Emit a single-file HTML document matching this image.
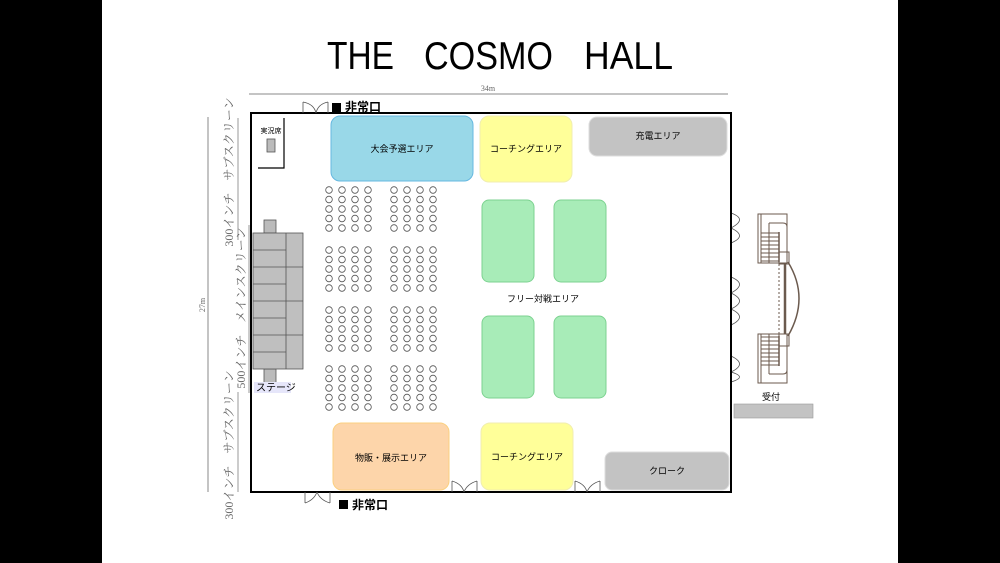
<!DOCTYPE html>
<html><head><meta charset="utf-8"><style>
html,body{margin:0;padding:0;background:#000;}
svg{display:block;font-family:"Liberation Sans","Noto Sans CJK JP",sans-serif;}
</style></head><body>
<svg width="1000" height="563" viewBox="0 0 1000 563" xmlns="http://www.w3.org/2000/svg">
<rect x="0" y="0" width="1000" height="563" fill="#000"/>
<rect x="102" y="0" width="796" height="563" fill="#fff"/>
<text x="327" y="69" font-size="39" textLength="67" lengthAdjust="spacingAndGlyphs" fill="#000">THE</text>
<text x="424" y="69" font-size="39" textLength="129" lengthAdjust="spacingAndGlyphs" fill="#000">COSMO</text>
<text x="584" y="69" font-size="39" textLength="89" lengthAdjust="spacingAndGlyphs" fill="#000">HALL</text>
<!-- dimension 34m -->
<line x1="249" y1="94" x2="728" y2="94" stroke="#888" stroke-width="1"/>
<text x="488" y="91" font-size="8" text-anchor="middle" fill="#666" font-family="Liberation Serif,serif">34m</text>
<!-- 27m -->
<line x1="208" y1="117" x2="208" y2="492" stroke="#888" stroke-width="1"/>
<text x="205" y="305" font-size="8" fill="#666" font-family="Liberation Serif,serif" transform="rotate(-90 205 305)" text-anchor="middle">27m</text>
<!-- screen labels -->
<line x1="238" y1="118" x2="238" y2="240" stroke="#999"/>
<text x="233" y="172" font-size="12" fill="#666" font-family="Liberation Serif,'Noto Serif CJK SC',serif" transform="rotate(-90 233 172)" text-anchor="middle">300インチ　サブスクリーン</text>
<line x1="249" y1="225" x2="249" y2="393" stroke="#999"/>
<text x="245" y="308" font-size="12" fill="#666" font-family="Liberation Serif,'Noto Serif CJK SC',serif" transform="rotate(-90 245 308)" text-anchor="middle">500インチ　メインスクリーン</text>
<line x1="238" y1="392" x2="238" y2="492" stroke="#999"/>
<text x="233" y="445" font-size="12" fill="#666" font-family="Liberation Serif,'Noto Serif CJK SC',serif" transform="rotate(-90 233 445)" text-anchor="middle">300インチ　サブスクリーン</text>
<!-- doors right wall -->
<g fill="none" stroke="#555" stroke-width="0.8">
<path d="M731,213 Q748,219 731,228 Q748,236 731,243"/>
<path d="M731,277 Q748,284 731,293 Q748,301 731,309 Q748,317 731,325"/>
<path d="M731,356 Q748,364 731,372 Q748,377 731,382"/>
</g>
<!-- hall -->
<rect x="251" y="113" width="480" height="379" fill="none" stroke="#000" stroke-width="2"/>
<!-- 実況席 -->
<polyline points="284,118 284,168 258,168" fill="none" stroke="#000" stroke-width="1.2"/>
<text x="271" y="133" font-size="7" text-anchor="middle">実況席</text>
<rect x="267" y="139" width="8" height="13" fill="#bbb" stroke="#555" stroke-width="0.8"/>
<!-- doors -->
<g fill="none" stroke="#555" stroke-width="0.8">
<path d="M303,102 L303,113 M328,102 L328,113 M303,102 Q314,104 316,113 M328,102 Q318,104 316,113"/>
<path d="M305,503 L305,492 M330,503 L330,492 M305,503 Q314,500 317,492 M330,503 Q320,500 317,492"/>
<path d="M452,492 L452,481 M477,492 L477,481 M452,481 Q462,484 464,492 M477,481 Q467,484 464,492"/>
<path d="M575,492 L575,481 M600,492 L600,481 M575,481 Q585,484 587,492 M600,481 Q590,484 587,492"/>
</g>
<rect x="332" y="103" width="9" height="9" fill="#000"/>
<text x="345" y="111" font-size="12" font-weight="bold">非常口</text>
<rect x="339" y="500" width="9" height="9" fill="#000"/>
<text x="352" y="509" font-size="12" font-weight="bold">非常口</text>
<!-- areas -->
<rect x="331" y="116" width="142" height="65" rx="9" fill="#99d8e8" stroke="#66b8e0"/>
<text x="402" y="152" font-size="9" text-anchor="middle">大会予選エリア</text>
<rect x="480" y="116" width="92" height="66" rx="9" fill="#ffff99" stroke="#f0eeb0"/>
<text x="526" y="152" font-size="9" text-anchor="middle">コーチングエリア</text>
<rect x="589" y="117" width="138" height="39" rx="8" fill="#c3c3c3" stroke="#ddd"/>
<text x="658" y="139" font-size="9" text-anchor="middle">充電エリア</text>
<g fill="#a8ecb8" stroke="#7cd290">
<rect x="482" y="200" width="52" height="82" rx="7"/>
<rect x="554" y="200" width="52" height="82" rx="7"/>
<rect x="482" y="316" width="52" height="82" rx="7"/>
<rect x="554" y="316" width="52" height="82" rx="7"/>
</g>
<text x="543" y="302" font-size="9" text-anchor="middle">フリー対戦エリア</text>
<rect x="333" y="423" width="116" height="67" rx="9" fill="#fdd5aa" stroke="#fbd080"/>
<text x="391" y="461" font-size="9" text-anchor="middle">物販・展示エリア</text>
<rect x="481" y="423" width="92" height="67" rx="9" fill="#ffff99" stroke="#f0eeb0"/>
<text x="527" y="460" font-size="9" text-anchor="middle">コーチングエリア</text>
<rect x="605" y="452" width="124" height="38" rx="7" fill="#c3c3c3" stroke="#ddd"/>
<text x="667" y="474" font-size="9" text-anchor="middle">クローク</text>
<!-- reception -->
<text x="771" y="400" font-size="9" text-anchor="middle">受付</text>
<rect x="734" y="404" width="79" height="14" fill="#c3c3c3" stroke="#999" stroke-width="0.6"/>
<!-- stairs -->
<g fill="none" stroke="#6b5a4e" stroke-width="1">
<rect x="758" y="214" width="29" height="49"/>
<rect x="758" y="334" width="29" height="49"/>
<path d="M761,214 v49 M761,334 v49"/>
<path d="M769,223 h14 q4,0 4,4 v14 M769,223 v40"/>
<path d="M769,374 h14 q4,0 4,-4 v-14 M769,374 v-40"/>
<path d="M761,233 h18 M761,237 h18 M761,241 h18 M761,245 h18 M761,249 h18 M761,253 h18 M761,257 h18 M761,261 h18"/>
<path d="M761,337 h18 M761,341 h18 M761,345 h18 M761,349 h18 M761,353 h18 M761,357 h18 M761,361 h18 M761,365 h18"/>
<path d="M779,232 v30 M779,336 v30" stroke-width="1.5"/>
<line x1="779" y1="264" x2="779" y2="334" stroke-dasharray="2,2"/>
<line x1="785" y1="264" x2="785" y2="334" stroke-width="2.5"/>
<path d="M788,262 Q810,298 788,336" stroke-width="1.5"/>
<rect x="779" y="252" width="10" height="12"/>
<rect x="779" y="334" width="10" height="12"/>
</g>
<!-- stage -->
<rect x="264" y="220" width="12" height="13" fill="#bbb" stroke="#555" stroke-width="0.8"/>
<rect x="264" y="369" width="12" height="14" fill="#bbb" stroke="#555" stroke-width="0.8"/>
<rect x="253" y="233" width="50" height="136" fill="#bfbfbf" stroke="#555" stroke-width="0.8"/>
<g stroke="#555" stroke-width="0.8">
<line x1="286" y1="233" x2="286" y2="369"/>
<line x1="253" y1="250" x2="286" y2="250"/><line x1="253" y1="267" x2="303" y2="267"/>
<line x1="253" y1="284" x2="286" y2="284"/><line x1="253" y1="301" x2="303" y2="301"/>
<line x1="253" y1="318" x2="286" y2="318"/><line x1="253" y1="335" x2="303" y2="335"/>
<line x1="253" y1="352" x2="286" y2="352"/>
</g>
<rect x="254" y="382" width="37" height="11" fill="#e6e6fa"/>
<text x="256" y="391" font-size="10">ステージ</text>
<!-- seats -->
<g fill="none" stroke="#555" stroke-width="0.8">
<circle cx="329" cy="190" r="3.3"/><circle cx="342" cy="190" r="3.3"/><circle cx="355" cy="190" r="3.3"/><circle cx="368" cy="190" r="3.3"/><circle cx="394" cy="190" r="3.3"/><circle cx="407" cy="190" r="3.3"/><circle cx="420" cy="190" r="3.3"/><circle cx="433" cy="190" r="3.3"/>
<circle cx="329" cy="199.5" r="3.3"/><circle cx="342" cy="199.5" r="3.3"/><circle cx="355" cy="199.5" r="3.3"/><circle cx="368" cy="199.5" r="3.3"/><circle cx="394" cy="199.5" r="3.3"/><circle cx="407" cy="199.5" r="3.3"/><circle cx="420" cy="199.5" r="3.3"/><circle cx="433" cy="199.5" r="3.3"/>
<circle cx="329" cy="209" r="3.3"/><circle cx="342" cy="209" r="3.3"/><circle cx="355" cy="209" r="3.3"/><circle cx="368" cy="209" r="3.3"/><circle cx="394" cy="209" r="3.3"/><circle cx="407" cy="209" r="3.3"/><circle cx="420" cy="209" r="3.3"/><circle cx="433" cy="209" r="3.3"/>
<circle cx="329" cy="218.5" r="3.3"/><circle cx="342" cy="218.5" r="3.3"/><circle cx="355" cy="218.5" r="3.3"/><circle cx="368" cy="218.5" r="3.3"/><circle cx="394" cy="218.5" r="3.3"/><circle cx="407" cy="218.5" r="3.3"/><circle cx="420" cy="218.5" r="3.3"/><circle cx="433" cy="218.5" r="3.3"/>
<circle cx="329" cy="228" r="3.3"/><circle cx="342" cy="228" r="3.3"/><circle cx="355" cy="228" r="3.3"/><circle cx="368" cy="228" r="3.3"/><circle cx="394" cy="228" r="3.3"/><circle cx="407" cy="228" r="3.3"/><circle cx="420" cy="228" r="3.3"/><circle cx="433" cy="228" r="3.3"/>
<circle cx="329" cy="250" r="3.3"/><circle cx="342" cy="250" r="3.3"/><circle cx="355" cy="250" r="3.3"/><circle cx="368" cy="250" r="3.3"/><circle cx="394" cy="250" r="3.3"/><circle cx="407" cy="250" r="3.3"/><circle cx="420" cy="250" r="3.3"/><circle cx="433" cy="250" r="3.3"/>
<circle cx="329" cy="259.5" r="3.3"/><circle cx="342" cy="259.5" r="3.3"/><circle cx="355" cy="259.5" r="3.3"/><circle cx="368" cy="259.5" r="3.3"/><circle cx="394" cy="259.5" r="3.3"/><circle cx="407" cy="259.5" r="3.3"/><circle cx="420" cy="259.5" r="3.3"/><circle cx="433" cy="259.5" r="3.3"/>
<circle cx="329" cy="269" r="3.3"/><circle cx="342" cy="269" r="3.3"/><circle cx="355" cy="269" r="3.3"/><circle cx="368" cy="269" r="3.3"/><circle cx="394" cy="269" r="3.3"/><circle cx="407" cy="269" r="3.3"/><circle cx="420" cy="269" r="3.3"/><circle cx="433" cy="269" r="3.3"/>
<circle cx="329" cy="278.5" r="3.3"/><circle cx="342" cy="278.5" r="3.3"/><circle cx="355" cy="278.5" r="3.3"/><circle cx="368" cy="278.5" r="3.3"/><circle cx="394" cy="278.5" r="3.3"/><circle cx="407" cy="278.5" r="3.3"/><circle cx="420" cy="278.5" r="3.3"/><circle cx="433" cy="278.5" r="3.3"/>
<circle cx="329" cy="288" r="3.3"/><circle cx="342" cy="288" r="3.3"/><circle cx="355" cy="288" r="3.3"/><circle cx="368" cy="288" r="3.3"/><circle cx="394" cy="288" r="3.3"/><circle cx="407" cy="288" r="3.3"/><circle cx="420" cy="288" r="3.3"/><circle cx="433" cy="288" r="3.3"/>
<circle cx="329" cy="310" r="3.3"/><circle cx="342" cy="310" r="3.3"/><circle cx="355" cy="310" r="3.3"/><circle cx="368" cy="310" r="3.3"/><circle cx="394" cy="310" r="3.3"/><circle cx="407" cy="310" r="3.3"/><circle cx="420" cy="310" r="3.3"/><circle cx="433" cy="310" r="3.3"/>
<circle cx="329" cy="319.5" r="3.3"/><circle cx="342" cy="319.5" r="3.3"/><circle cx="355" cy="319.5" r="3.3"/><circle cx="368" cy="319.5" r="3.3"/><circle cx="394" cy="319.5" r="3.3"/><circle cx="407" cy="319.5" r="3.3"/><circle cx="420" cy="319.5" r="3.3"/><circle cx="433" cy="319.5" r="3.3"/>
<circle cx="329" cy="329" r="3.3"/><circle cx="342" cy="329" r="3.3"/><circle cx="355" cy="329" r="3.3"/><circle cx="368" cy="329" r="3.3"/><circle cx="394" cy="329" r="3.3"/><circle cx="407" cy="329" r="3.3"/><circle cx="420" cy="329" r="3.3"/><circle cx="433" cy="329" r="3.3"/>
<circle cx="329" cy="338.5" r="3.3"/><circle cx="342" cy="338.5" r="3.3"/><circle cx="355" cy="338.5" r="3.3"/><circle cx="368" cy="338.5" r="3.3"/><circle cx="394" cy="338.5" r="3.3"/><circle cx="407" cy="338.5" r="3.3"/><circle cx="420" cy="338.5" r="3.3"/><circle cx="433" cy="338.5" r="3.3"/>
<circle cx="329" cy="348" r="3.3"/><circle cx="342" cy="348" r="3.3"/><circle cx="355" cy="348" r="3.3"/><circle cx="368" cy="348" r="3.3"/><circle cx="394" cy="348" r="3.3"/><circle cx="407" cy="348" r="3.3"/><circle cx="420" cy="348" r="3.3"/><circle cx="433" cy="348" r="3.3"/>
<circle cx="329" cy="369" r="3.3"/><circle cx="342" cy="369" r="3.3"/><circle cx="355" cy="369" r="3.3"/><circle cx="368" cy="369" r="3.3"/><circle cx="394" cy="369" r="3.3"/><circle cx="407" cy="369" r="3.3"/><circle cx="420" cy="369" r="3.3"/><circle cx="433" cy="369" r="3.3"/>
<circle cx="329" cy="378.5" r="3.3"/><circle cx="342" cy="378.5" r="3.3"/><circle cx="355" cy="378.5" r="3.3"/><circle cx="368" cy="378.5" r="3.3"/><circle cx="394" cy="378.5" r="3.3"/><circle cx="407" cy="378.5" r="3.3"/><circle cx="420" cy="378.5" r="3.3"/><circle cx="433" cy="378.5" r="3.3"/>
<circle cx="329" cy="388" r="3.3"/><circle cx="342" cy="388" r="3.3"/><circle cx="355" cy="388" r="3.3"/><circle cx="368" cy="388" r="3.3"/><circle cx="394" cy="388" r="3.3"/><circle cx="407" cy="388" r="3.3"/><circle cx="420" cy="388" r="3.3"/><circle cx="433" cy="388" r="3.3"/>
<circle cx="329" cy="397.5" r="3.3"/><circle cx="342" cy="397.5" r="3.3"/><circle cx="355" cy="397.5" r="3.3"/><circle cx="368" cy="397.5" r="3.3"/><circle cx="394" cy="397.5" r="3.3"/><circle cx="407" cy="397.5" r="3.3"/><circle cx="420" cy="397.5" r="3.3"/><circle cx="433" cy="397.5" r="3.3"/>
<circle cx="329" cy="407" r="3.3"/><circle cx="342" cy="407" r="3.3"/><circle cx="355" cy="407" r="3.3"/><circle cx="368" cy="407" r="3.3"/><circle cx="394" cy="407" r="3.3"/><circle cx="407" cy="407" r="3.3"/><circle cx="420" cy="407" r="3.3"/><circle cx="433" cy="407" r="3.3"/>
</g>
</svg>
</body></html>
